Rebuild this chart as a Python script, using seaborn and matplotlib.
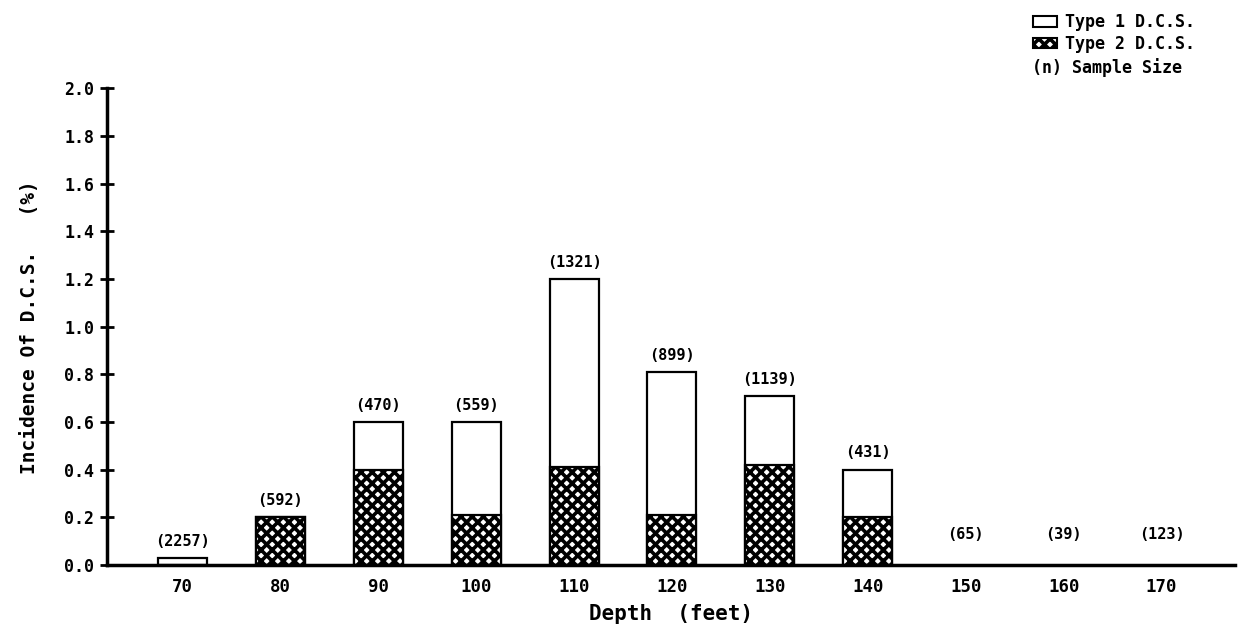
import matplotlib
matplotlib.use("Agg")
import matplotlib.pyplot as plt
import seaborn as sns
import pandas as pd
import numpy as np
from matplotlib.patches import Patch

# ---- data ----
depths = ["70", "80", "90", "100", "110", "120", "130", "140", "150", "160", "170"]
type1 = [0.03, 0.0, 0.20, 0.39, 0.79, 0.60, 0.29, 0.20, 0.0, 0.0, 0.0]
type2 = [0.0, 0.20, 0.40, 0.21, 0.41, 0.21, 0.42, 0.20, 0.0, 0.0, 0.0]
sample_sizes = [2257, 592, 470, 559, 1321, 899, 1139, 431, 65, 39, 123]
y_ticks = [0.0, 0.2, 0.4, 0.6, 0.8, 1.0, 1.2, 1.4, 1.6, 1.8, 2.0]

sns.set_theme(style="white")
plt.rcParams["font.family"] = ["DejaVu Sans Mono", "DejaVu Sans"]
plt.rcParams["font.weight"] = "bold"
plt.rcParams["hatch.linewidth"] = 2.6
plt.rcParams["hatch.color"] = "black"
for k in ["text.color", "axes.labelcolor", "xtick.color", "ytick.color",
          "xtick.labelcolor", "ytick.labelcolor"]:
    plt.rcParams[k] = "black"

HATCH = "xxx"

df = pd.DataFrame({"depth": depths, "type1": type1, "type2": type2, "n": sample_sizes})
df["total"] = df["type1"] + df["type2"]

fig = plt.figure(figsize=(12.38, 6.26), dpi=100)
ax = fig.add_axes([0.0864, 0.0974, 0.9112, 0.7616])

# total (Type 1 on top of Type 2) drawn first, then Type 2 over it
sns.barplot(data=df, x="depth", y="total", order=depths, color="white",
            edgecolor="black", linewidth=1.6, width=0.5, ax=ax, saturation=1)
n_tot = len(ax.patches)
sns.barplot(data=df, x="depth", y="type2", order=depths, color="white",
            edgecolor="black", linewidth=1.6, width=0.5, ax=ax, saturation=1)
for p in ax.patches[n_tot:]:
    p.set_hatch(HATCH)
for p in ax.patches:
    if p.get_height() <= 0:
        p.set_visible(False)

# sample-size labels
for i, (tot, n) in enumerate(zip(df["total"], df["n"])):
    y = tot + 0.07 if tot > 0 else 0.13
    ax.text(i, y, f"({n})", ha="center", va="center", fontsize=11, fontweight="bold")

ax.set_xlim(-0.77, 10.75)
ax.set_ylim(0, 2.0)
ax.set_yticks(y_ticks)
ax.set_yticklabels([f"{v:.1f}" for v in y_ticks], fontsize=12, fontweight="bold")
ax.tick_params(axis="y", direction="inout", length=10, width=2, left=True, pad=4)
ax.tick_params(axis="x", length=0, pad=9, labelsize=12.5)
for lbl in ax.get_xticklabels():
    lbl.set_fontweight("bold")

for s in ["top", "right"]:
    ax.spines[s].set_visible(False)
for s in ["left", "bottom"]:
    ax.spines[s].set_visible(True)
    ax.spines[s].set_color("black")
    ax.spines[s].set_linewidth(2.5)

ax.set_xlabel("Depth  (feet)", fontsize=15, fontweight="bold", labelpad=6)
ax.set_ylabel("Incidence Of D.C.S.   (%)", fontsize=14, fontweight="bold", labelpad=18)

handles = [Patch(facecolor="white", edgecolor="black", linewidth=1.5),
           Patch(facecolor="white", edgecolor="black", linewidth=1.5, hatch=HATCH)]
leg = fig.legend(handles, ["Type 1 D.C.S.", "Type 2 D.C.S."], loc="upper left",
                 bbox_to_anchor=(0.832, 0.984), frameon=False, fontsize=12,
                 handlelength=1.4, handleheight=0.6, handletextpad=0.5,
                 labelspacing=0.2, borderaxespad=0.0, borderpad=0.2)
for t in leg.get_texts():
    t.set_fontweight("bold")
    t.set_color("black")
fig.text(0.834, 0.892, "(n) Sample Size", fontsize=12, fontweight="bold",
         ha="left", va="center", color="black")

fig.savefig("out.png", dpi=100)
